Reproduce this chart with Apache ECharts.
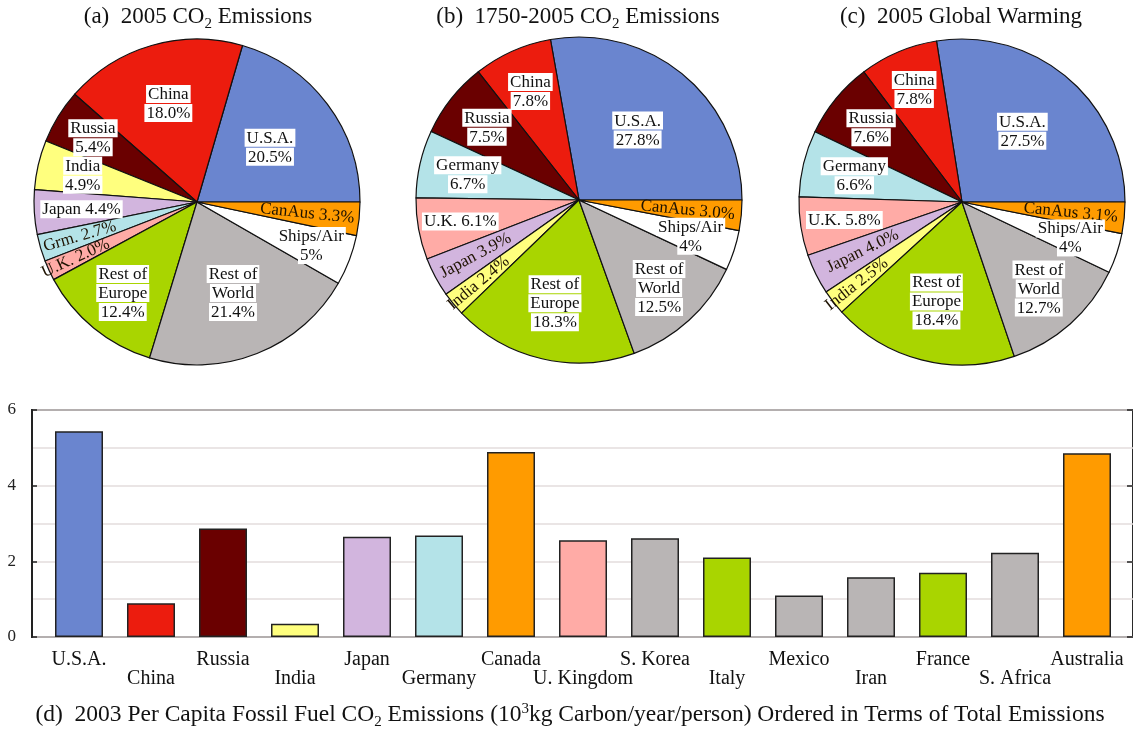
<!DOCTYPE html>
<html>
<head>
<meta charset="utf-8">
<script src="https://cdn.jsdelivr.net/npm/echarts@6/dist/echarts.min.js"></script>
<style>
  html, body { margin: 0; padding: 0; background: #fff; }
  #main { width: 1133px; height: 729px; }
</style>
</head>
<body>
<div id="main"></div>
<script>
// ---- Pie (a): 2005 CO2 emissions, share of world total (%) ----
const namesA  = ['U.S.A.', 'China', 'Russia', 'India', 'Japan', 'Grm.', 'U.K.', 'Rest of\nEurope', 'Rest of\nWorld', 'Ships/Air', 'CanAus'];
const keysA   = ['usa', 'china', 'russia', 'india', 'japan', 'germany', 'uk', 'europe', 'world', 'ships', 'canaus'];
const sharesA = [20.5, 18.0, 5.4, 4.9, 4.4, 2.7, 2.0, 12.4, 21.4, 5, 3.3];

// ---- Pie (b): cumulative 1750-2005 CO2 emissions (%) ----
const namesB  = ['U.S.A.', 'China', 'Russia', 'Germany', 'U.K.', 'Japan', 'India', 'Rest of\nEurope', 'Rest of\nWorld', 'Ships/Air', 'CanAus'];
const keysB   = ['usa', 'china', 'russia', 'germany', 'uk', 'japan', 'india', 'europe', 'world', 'ships', 'canaus'];
const sharesB = [27.8, 7.8, 7.5, 6.7, 6.1, 3.9, 2.4, 18.3, 12.5, 4, 3.0];

// ---- Pie (c): 2005 global warming contribution (%) ----
const namesC  = namesB;
const keysC   = keysB;
const sharesC = [27.5, 7.8, 7.6, 6.6, 5.8, 4.0, 2.5, 18.4, 12.7, 4, 3.1];

// Slices whose percentage is printed as a whole number
const wholePercent = ['Ships/Air'];

// ---- Bar chart (d): 2003 per-capita fossil fuel CO2 (10^3 kg C / year / person) ----
const barCountries = ['U.S.A.', 'China', 'Russia', 'India', 'Japan', 'Germany', 'Canada', 'U. Kingdom', 'S. Korea', 'Italy', 'Mexico', 'Iran', 'France', 'S. Africa', 'Australia'];
const barKeys      = ['usa', 'china', 'russia', 'india', 'japan', 'germany', 'canaus', 'uk', 'world', 'europe', 'world', 'world', 'europe', 'world', 'canaus'];
const perCapita    = [5.44, 0.89, 2.87, 0.35, 2.65, 2.68, 4.89, 2.56, 2.61, 2.10, 1.10, 1.58, 1.70, 2.23, 4.86];
const yTickValues  = [0, 2, 4, 6];

// ---- Colours by region ----
const colors = {
  usa: '#6a85cf', china: '#ec1c0e', russia: '#6a0000', india: '#ffff7e',
  japan: '#d2b5de', germany: '#b4e3e8', uk: '#ffaba6', europe: '#a9d500',
  world: '#b9b5b5', ships: '#ffffff', canaus: '#ff9b00'
};

// ---- Pie label placement: radial fraction and label style per slice ----
const labelRA = [0.56, 0.63, 0.75, 0.72, 0.71, 0.75, 0.82, 0.72, 0.60, 0.75, 0.68];
const kindA   = ['stack', 'stack', 'stack', 'stack', 'inline', 'radial', 'radial', 'stack', 'stack', 'stack', 'radial'];
const labelRB = [0.56, 0.73, 0.72, 0.70, 0.74, 0.72, 0.80, 0.65, 0.73, 0.72, 0.67];
const labelRC = [0.57, 0.75, 0.72, 0.68, 0.73, 0.68, 0.82, 0.63, 0.71, 0.70, 0.67];
const kindBC  = ['stack', 'stack', 'stack', 'stack', 'inline', 'radial', 'radial', 'stack', 'stack', 'stack', 'radial'];

const PIE_R = 163;
const SERIF = "'Liberation Serif', 'DejaVu Serif', serif";

const pies = [
  { names: namesA, keys: keysA, values: sharesA, center: [197, 202], labelR: labelRA, kind: kindA },
  { names: namesB, keys: keysB, values: sharesB, center: [579, 200], labelR: labelRB, kind: kindBC },
  { names: namesC, keys: keysC, values: sharesC, center: [962, 202], labelR: labelRC, kind: kindBC }
];

function pct(name, v) {
  return (wholePercent.indexOf(name) >= 0 ? v.toFixed(0) : v.toFixed(1)) + '%';
}

// Mid-angle of every slice, counter-clockwise from 3 o'clock
function midAngles(values) {
  const total = values.reduce((a, b) => a + b, 0);
  let acc = 0;
  return values.map(v => { const m = (acc + v / 2) / total * 360; acc += v; return m; });
}

function pieSeries(pie) {
  const mids = midAngles(pie.values);
  return {
    type: 'pie',
    silent: true,
    animation: false,
    center: pie.center,
    radius: PIE_R,
    startAngle: 0,
    clockwise: false,
    avoidLabelOverlap: false,
    labelLine: { show: false },
    itemStyle: { borderColor: '#111', borderWidth: 1.2 },
    label: {
      show: true,
      position: 'inside',
      fontFamily: SERIF,
      fontSize: 17,
      color: '#111',
      formatter: p => {
        const i = p.dataIndex;
        const t = pct(p.name, p.value);
        const kind = pie.kind[i];
        if (kind === 'stack') {
          return p.name.split('\n').concat([t]).map(s => '{b|' + s + '}').join('\n');
        }
        if (kind === 'inline') return '{b|' + p.name + ' ' + t + '}';
        return '{t|' + p.name + ' ' + t + '}';
      },
      rich: {
        b: { fontFamily: SERIF, fontSize: 17, lineHeight: 19, color: '#111', backgroundColor: '#fff', padding: [1, 2, 0, 2] },
        t: { fontFamily: SERIF, fontSize: 17, lineHeight: 19, color: '#1e1200' }
      }
    },
    labelLayout: p => {
      const i = p.dataIndex;
      const a = mids[i] * Math.PI / 180;
      const d = PIE_R * pie.labelR[i];
      let rot = 0;
      if (pie.kind[i] === 'radial') {
        rot = mids[i];
        if (rot > 90 && rot < 270) rot -= 180;
        else if (rot >= 270) rot -= 360;
      }
      return {
        x: pie.center[0] + Math.cos(a) * d,
        y: pie.center[1] - Math.sin(a) * d,
        align: 'center',
        verticalAlign: 'middle',
        rotate: rot
      };
    },
    data: pie.values.map((v, i) => ({
      name: pie.names[i],
      value: v,
      itemStyle: { color: colors[pie.keys[i]] }
    }))
  };
}

// Panel titles; sub/superscripts are shifted with padding inside a fixed line height
function titleBox(text, cx, top, size) {
  const small = Math.round(size * 0.65);
  return {
    text: text,
    left: cx,
    top: top,
    padding: 0,
    textAlign: 'center',
    textStyle: {
      fontFamily: SERIF, fontSize: size, lineHeight: 30, fontWeight: 'normal', color: '#111',
      rich: {
        s: { fontFamily: SERIF, fontSize: small, lineHeight: 15, color: '#111', padding: [14, 0, 0, 0] },
        p: { fontFamily: SERIF, fontSize: small, lineHeight: 15, color: '#111', padding: [0, 0, 12, 0] }
      }
    }
  };
}

const gridLine = { color: '#e3dddd', width: 1.5 };

const option = {
  animation: false,
  backgroundColor: '#fff',
  title: [
    titleBox('(a)  2005 CO{s|2} Emissions', 198, 2, 23),
    titleBox('(b)  1750-2005 CO{s|2} Emissions', 578, 2, 23),
    titleBox('(c)  2005 Global Warming', 961, 2, 23),
    titleBox('(d)  2003 Per Capita Fossil Fuel CO{s|2} Emissions (10{p|3}kg Carbon/year/person) Ordered in Terms of Total Emissions', 570, 700, 23.5)
  ],
  grid: [
    // frame with y scale and grid lines
    { left: 32, right: 0, top: 410, bottom: 92, show: true, borderColor: '#2a2a2a', borderWidth: 2, backgroundColor: 'transparent' },
    // bar area
    { left: 43, right: 10, top: 410, bottom: 92 }
  ],
  xAxis: [
    { type: 'value', gridIndex: 0, min: 0, max: 1, show: false },
    {
      type: 'category', gridIndex: 1, data: barCountries,
      axisLine: { show: false }, axisTick: { show: false },
      axisLabel: {
        interval: 0, margin: 13, fontFamily: SERIF, fontSize: 20, lineHeight: 19, color: '#111',
        formatter: (v, i) => (i % 2 ? '\n' + v : v)
      }
    }
  ],
  yAxis: [
    {
      type: 'value', gridIndex: 0, min: 0, max: 6, interval: 2,
      axisLine: { show: true, lineStyle: { color: '#222', width: 2 } },
      axisTick: { show: true, inside: true, length: 5, lineStyle: { color: '#222', width: 1.5 } },
      axisLabel: {
        margin: 16, fontFamily: SERIF, fontSize: 17, color: '#222',
        formatter: v => (yTickValues.indexOf(v) >= 0 ? String(v) : '')
      },
      splitLine: { show: true, lineStyle: gridLine },
      minorTick: { show: false, splitNumber: 2 },
      minorSplitLine: { show: true, lineStyle: gridLine }
    },
    {
      type: 'value', gridIndex: 0, position: 'right', min: 0, max: 6, interval: 2,
      axisLine: { show: false },
      axisTick: { show: true, inside: true, length: 6, lineStyle: { color: '#222', width: 1.5 } },
      axisLabel: { show: false },
      splitLine: { show: false }
    },
    { type: 'value', gridIndex: 1, min: 0, max: 6, show: false }
  ],
  series: pies.map(pieSeries).concat([
    {
      type: 'bar',
      silent: true,
      xAxisIndex: 1,
      yAxisIndex: 2,
      barWidth: 48,
      data: perCapita.map((v, i) => ({
        value: v,
        itemStyle: { color: colors[barKeys[i]], borderColor: '#222', borderWidth: 1.5 }
      }))
    }
  ])
};

const chart = echarts.init(document.getElementById('main'), null, { renderer: 'canvas' });
chart.setOption(option);
</script>
</body>
</html>
